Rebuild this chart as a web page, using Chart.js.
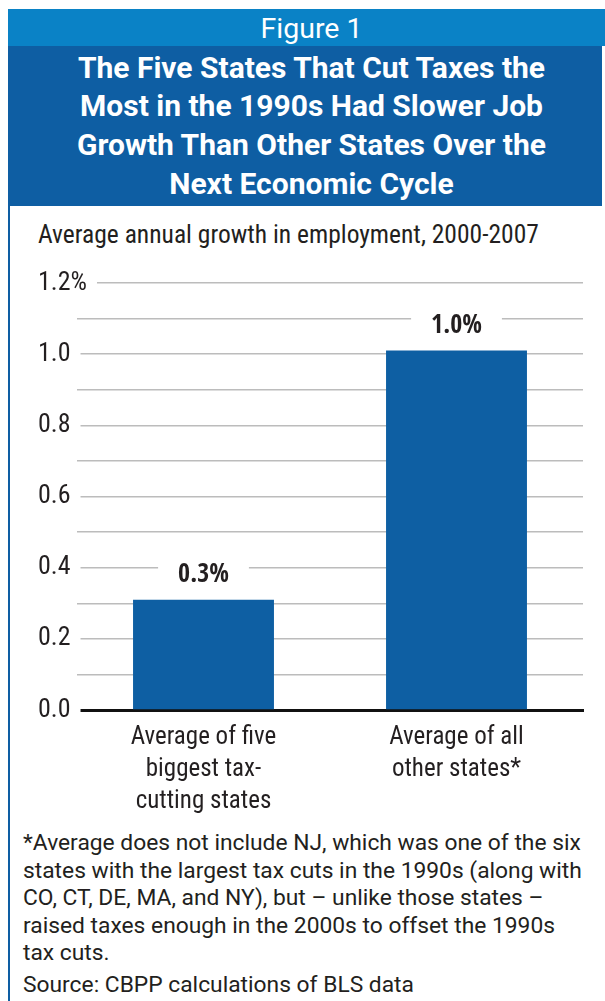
<!DOCTYPE html>
<html>
<head>
<meta charset="utf-8">
<script src="https://cdn.jsdelivr.net/npm/chart.js@4.4.1/dist/chart.umd.min.js"></script>
<style>
  body { margin: 0; width: 605px; height: 1001px; background: #fff; position: relative; overflow: hidden; }
  #edge { position: absolute; left: 8px; top: 9px; width: 2px; height: 992px; background: #0e5ea3; }
  #fig { position: absolute; left: 8px; top: 9px; width: 597px; height: 37px; background: #0a82c6; }
  #figtxt { width: 607px; text-align: center; color: #fff; font: 28.5px/40.6px Roboto, sans-serif; }
  #head { position: absolute; left: 8px; top: 46px; width: 594px; height: 160px; background: #0e5ea3; }
  #headtxt { position: absolute; top: 2.5px; width: 607px; text-align: center; color: #fff; font: bold 30px/38.7px Roboto, sans-serif; white-space: nowrap; }
  #sub { position: absolute; left: 38px; top: 219px; color: #231f20; font: 25.5px/30px "Roboto Condensed", sans-serif; white-space: nowrap; }
  #wrap { position: absolute; left: 0; top: 206px; width: 605px; height: 614px; }
  #note { position: absolute; left: 23px; top: 829px; width: 582px; color: #231f20; font: 22.8px/27.5px Roboto, "Liberation Sans", sans-serif; white-space: nowrap; }
  #src { margin-top: 4px; }
</style>
</head>
<body>
<div id="edge"></div>
<div id="fig"><div id="figtxt">Figure 1</div></div>
<div id="head"><div id="headtxt">The Five States That Cut Taxes the<br>Most in the 1990s Had Slower Job<br>Growth Than Other States Over the<br>Next Economic Cycle</div></div>
<div id="sub">Average annual growth in employment, 2000-2007</div>
<div id="wrap"><canvas id="jobs" width="605" height="614"></canvas></div>
<div id="note">
  <div>*Average does not include NJ, which was one of the six<br>states with the largest tax cuts in the 1990s (along with<br>CO, CT, DE, MA, and NY), but &ndash; unlike those states &ndash;<br>raised taxes enough in the 2000s to offset the 1990s<br>tax cuts.</div>
  <div id="src">Source: CBPP calculations of BLS data</div>
</div>
<script>
// values
const categories = [
	["Average of five", "biggest tax-", "cutting states"],
	["Average of all", "other states*"]
];
const growth = [0.31, 1.01];
const growthLabels = ["0.3%", "1.0%"];
const yTickLabels = ["0.0", "", "0.2", "", "0.4", "", "0.6", "", "0.8", "", "1.0", "", "1.2%"];

const cond = "'Roboto Condensed', sans-serif";
const textColor = "#231f20";

// bold value labels above bars, with a white patch that breaks the gridline
const barLabels = {
	id: "barLabels",
	afterDatasetsDraw(chart) {
		const ctx = chart.ctx;
		const meta = chart.getDatasetMeta(0);
		ctx.save();
		ctx.font = "bold 26px 'Open Sans Condensed', 'Roboto Condensed', sans-serif";
		ctx.textAlign = "center";
		ctx.textBaseline = "middle";
		meta.data.forEach((bar, i) => {
			const txt = growthLabels[i];
			const w = ctx.measureText(txt).width;
			const y = bar.y - 25;
			ctx.fillStyle = "#fff";
			ctx.fillRect(bar.x - w / 2 - 20, y - 13, w + 40, 26);
			ctx.fillStyle = textColor;
			ctx.fillText(txt, bar.x, y + 1);
		});
		ctx.restore();
	}
};

new Chart(document.getElementById("jobs"), {
	type: "bar",
	data: {
		labels: categories,
		datasets: [{
			data: growth,
			backgroundColor: "#0e5fa3",
			borderWidth: 0,
			categoryPercentage: 1,
			barPercentage: 0.557
		}]
	},
	options: {
		responsive: false,
		animation: false,
		layout: { padding: { left: 38, top: 77, right: 22, bottom: 0 } },
		plugins: {
			legend: { display: false },
			tooltip: { enabled: false }
		},
		scales: {
			x: {
				grid: { display: false, drawTicks: false },
				border: { display: true, color: "#111", width: 3 },
				ticks: {
					color: textColor,
					font: { family: cond, size: 25, lineHeight: 1.27 },
					padding: 12,
					maxRotation: 0,
					autoSkip: false
				},
				afterFit(scale) { scale.height = 110; }
			},
			y: {
				min: 0,
				max: 1.2,
				grid: { color: "#bcbcbc", lineWidth: 1.5, drawTicks: false },
				border: { display: false },
				ticks: {
					stepSize: 0.1,
					autoSkip: false,
					mirror: true,
					crossAlign: "near",
					padding: -39,
					color: textColor,
					font: { family: cond, size: 26 },
					showLabelBackdrop: true,
					backdropColor: "#fff",
					backdropPadding: { top: 0, bottom: 0, left: 0, right: 10 },
					callback: (v, i) => yTickLabels[i]
				},
				afterFit(scale) { scale.width = 39; }
			}
		}
	},
	plugins: [barLabels]
});
</script>
</body>
</html>
